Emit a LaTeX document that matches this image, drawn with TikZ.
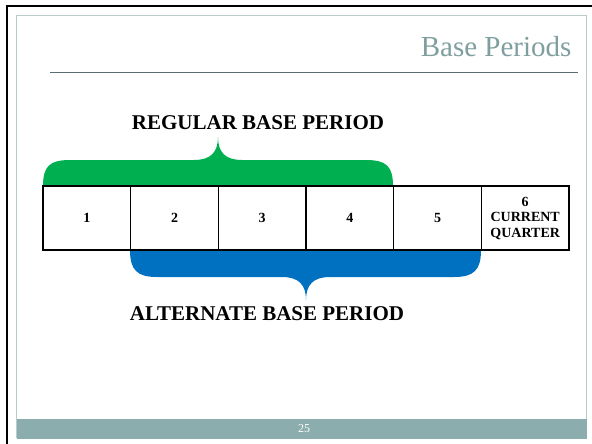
\documentclass[tikz,border=0pt]{standalone}
\usepackage{fontspec}
\setmainfont{Liberation Serif}
\usetikzlibrary{positioning}
\definecolor{titlegrey}{HTML}{7F9F9F}
\definecolor{rulegrey}{HTML}{5A6E72}
\definecolor{framegrey}{HTML}{B8CCCC}
\definecolor{footgrey}{HTML}{8CADAD}
\definecolor{regular}{HTML}{00B050}
\definecolor{alternate}{HTML}{0070C0}

\begin{document}
\begin{tikzpicture}[x=1pt, y=-1pt,
  period/.style={draw, line width=1.4pt, minimum width=87.7pt, minimum height=64pt,
    inner sep=0pt, align=center, font=\fontsize{14}{15.5}\selectfont\bfseries},
  caption/.style={font=\fontsize{21}{24}\selectfont\bfseries}]
\useasboundingbox (0,0) rectangle (592,444);
\fill [white] (0,0) rectangle (592,444);
% slide frame
\draw [line width=2.4pt] (7,444) -- (7,6) -- (592,6);
\draw [framegrey, line width=0.8pt] (16.5,438) -- (16.5,15.5) -- (586.5,15.5) -- (586.5,438);
\fill [footgrey] (16.5,419) rectangle (586.5,438.5);
\node (PAGE) at (304,429) [text=white, font=\fontsize{12}{14}\selectfont] {25};
\node (TITLE) at (575,47) [anchor=east, text=titlegrey, font=\fontsize{29}{32}\selectfont] {Base Periods};
\draw [rulegrey, line width=0.9pt] (50,72) -- (578,72);

% braces (drawn first, boxes go on top)
\fill [regular] (43,186) .. controls (43,166) and (50,160) .. (70,160) -- (194,160)
  .. controls (211,160) and (218,152) .. (218,137)
  .. controls (218,152) and (225,160) .. (242,160) -- (366,160)
  .. controls (386,160) and (393,166) .. (393,186) -- cycle;
\fill [alternate] (130,250) .. controls (130,270) and (137,277) .. (157,277) -- (282,277)
  .. controls (299,277) and (306,285) .. (306,300)
  .. controls (306,285) and (313,277) .. (330,277) -- (454,277)
  .. controls (474,277) and (481,270) .. (481,250) -- cycle;

% quarters
\node (Q1) at (86.8,218) [period] {1};
\node (Q2) at (174.5,218) [period] {2};
\node (Q3) at (262.2,218) [period] {3};
\node (Q4) at (349.8,218) [period] {4};
\node (Q5) at (437.5,218) [period] {5};
\node (Q6) at (525.2,218) [period] {6\\CURRENT\\QUARTER};

\node (RBP) at (258,123) [caption] {REGULAR BASE PERIOD};
\node (ABP) at (267,314) [caption] {ALTERNATE BASE PERIOD};
\end{tikzpicture}
\end{document}
